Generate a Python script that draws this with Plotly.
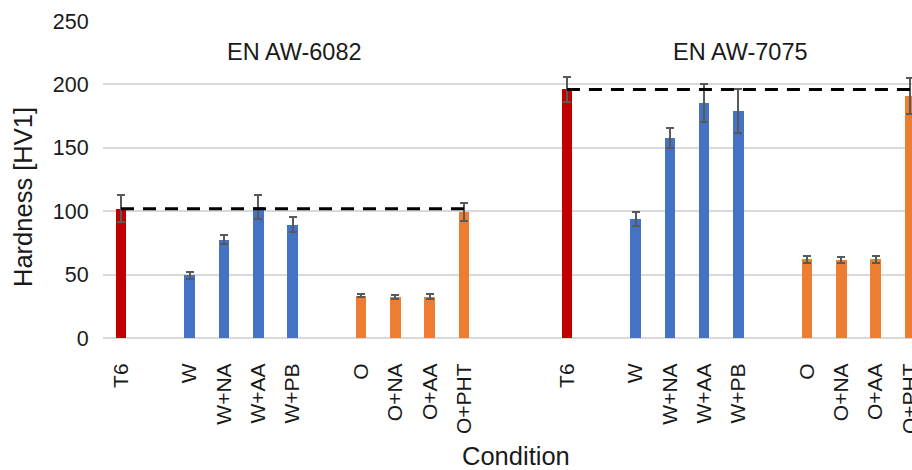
import plotly.graph_objects as go

# Vickers hardness (HV1) per heat-treatment condition, mean and standard deviation
alloys = ["EN AW-6082", "EN AW-7075"]
condition_groups = [["T6"], ["W", "W+NA", "W+AA", "W+PB"], ["O", "O+NA", "O+AA", "O+PHT"]]
group_colors = ["#C00000", "#4472C4", "#ED7D31"]

hardness_6082 = [102, 49.5, 77.5, 103, 89.5, 33.5, 32.5, 32.5, 99.5]
error_6082 = [10.5, 2.7, 3.7, 9.5, 6.2, 1.0, 1.5, 2.0, 7.0]

hardness_7075 = [196, 93.5, 158, 185.5, 179, 62, 61.5, 62, 191]
error_7075 = [9.5, 5.5, 8.0, 15.0, 17.5, 2.8, 2.0, 2.8, 14.0]

hardness = [hardness_6082, hardness_7075]
errors = [error_6082, error_7075]

y_ticks = [0, 50, 100, 150, 200, 250]

FONT = "Liberation Sans, Arial, sans-serif"
TEXT = "#1a1a1a"

# Slot layout: one empty slot between condition groups, two between alloys
positions, labels, colors = [], [], []
slot = 0
alloy_slots = []
for a in range(len(alloys)):
    start = slot
    for g, group in enumerate(condition_groups):
        for cond in group:
            positions.append(slot)
            labels.append(cond)
            colors.append(group_colors[g])
            slot += 1
        if g < len(condition_groups) - 1:
            slot += 1
    alloy_slots.append((start, slot - 1))
    slot += 2

fig = go.Figure()

n = sum(len(g) for g in condition_groups)
for a in range(len(alloys)):
    xs = positions[a * n:(a + 1) * n]
    fig.add_trace(go.Bar(
        x=xs,
        y=hardness[a],
        width=0.31,
        marker=dict(color=colors[a * n:(a + 1) * n], line=dict(width=0)),
        error_y=dict(type="data", array=errors[a], visible=True,
                     color="#595959", thickness=2, width=4),
        showlegend=False,
    ))

# Reference line at the T6 hardness of each alloy
for a in range(len(alloys)):
    x0, x1 = alloy_slots[a]
    ref = hardness[a][0]
    fig.add_trace(go.Scatter(
        x=[x0, x1], y=[ref, ref], mode="lines",
        line=dict(color="black", width=3, dash="13px,9px"),
        showlegend=False, hoverinfo="skip",
    ))

# Alloy names above each block
for a in range(len(alloys)):
    x0, x1 = alloy_slots[a]
    fig.add_annotation(
        x=(x0 + x1) / 2 + 0.05, y=225.5, text=alloys[a], showarrow=False,
        font=dict(family=FONT, size=23.5, color=TEXT),
        xanchor="center", yanchor="middle",
    )

# Axis titles
fig.add_annotation(
    xref="paper", yref="paper", x=(516 - 103) / 809, y=(338 - 456) / 317,
    text="Condition", showarrow=False,
    font=dict(family=FONT, size=25.5, color=TEXT),
    xanchor="center", yanchor="middle",
)
fig.add_annotation(
    xref="paper", yref="paper", x=(23 - 103) / 809, y=(338 - 197) / 317,
    text="Hardness [HV1]", showarrow=False, textangle=-90,
    font=dict(family=FONT, size=25.5, color=TEXT),
    xanchor="center", yanchor="middle",
)

fig.update_layout(
    width=912, height=470,
    margin=dict(l=103, r=0, t=21, b=132, autoexpand=False),
    plot_bgcolor="white", paper_bgcolor="white",
    font=dict(family=FONT, color=TEXT),
    bargap=0,
)

fig.update_xaxes(
    range=[-0.525, 23.06],
    tickmode="array", tickvals=positions, ticktext=labels,
    tickangle=-90,
    tickfont=dict(family=FONT, size=21, color=TEXT),
    ticks="outside", ticklen=16, tickcolor="rgba(0,0,0,0)",
    ticklabeloverflow="allow",
    showgrid=False, zeroline=False, showline=False,
    automargin=False,
)

fig.update_yaxes(
    range=[0, 250],
    tickmode="array", tickvals=y_ticks,
    tickfont=dict(family=FONT, size=21.5, color=TEXT),
    ticks="outside", ticklen=9, tickcolor="rgba(0,0,0,0)",
    showgrid=True, gridcolor="#D9D9D9", gridwidth=1.5,
    zeroline=True, zerolinecolor="#D9D9D9", zerolinewidth=1.5,
    showline=False,
    automargin=False,
)

fig.write_html("out.html")
